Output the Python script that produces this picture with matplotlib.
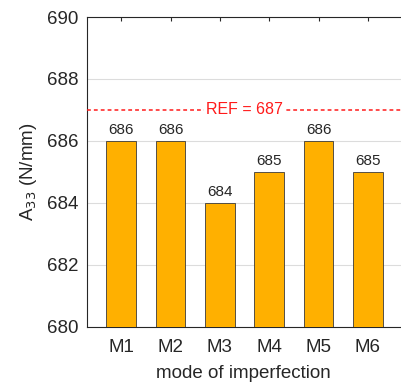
import matplotlib
matplotlib.use("Agg")
import matplotlib.pyplot as plt
import numpy as np

categories = ["M1", "M2", "M3", "M4", "M5", "M6"]
values = [686, 686, 684, 685, 686, 685]
ref_value = 687
yticks = [680, 682, 684, 686, 688, 690]

plt.rcParams['font.family'] = ['Liberation Sans', 'DejaVu Sans']

fig = plt.figure(figsize=(4.01, 3.89), dpi=100)
W, H = 401, 389
left, right, top, bottom = 86.7, 401, 17, 326.7
ax = fig.add_axes([left / W, 1 - bottom / H, (right - left) / W, (bottom - top) / H])

x = np.arange(1, len(categories) + 1)
ax.bar(x, values, width=0.6, color='#FFB000', edgecolor='#3a3a3a', linewidth=0.6, zorder=3)
ax.set_ylim(680, 690)
ax.set_xlim(0.3, 6.67)
ax.set_yticks(yticks)
ax.set_xticks(x)
ax.set_xticklabels(categories)
ax.grid(axis='y', color='#dcdcdc', linewidth=0.8, zorder=0)
ax.set_axisbelow(True)

for xi, v in zip(x, values):
    ax.text(xi, v + 0.12, str(v), ha='center', va='bottom', fontsize=11, color='#262626', zorder=5)

ax.axhline(ref_value, color='#ff1a1a', linestyle=(0, (2.5, 2)), linewidth=1.1, zorder=4)
ax.text(3.5, ref_value, f"REF = {ref_value}", ha='center', va='center', fontsize=11.5,
        color='#ff1a1a', zorder=5,
        bbox=dict(facecolor='white', edgecolor='none', pad=1.5))

for s in ['left', 'top', 'bottom']:
    ax.spines[s].set_color('#262626')
    ax.spines[s].set_linewidth(0.8)
ax.spines['right'].set_visible(False)
ax.tick_params(axis='both', direction='in', colors='#262626', labelsize=13.5, length=3,
               top=True, left=True, right=False)
ax.tick_params(axis='y', length=0, pad=6)
ax.tick_params(axis='x', pad=9)

ax.set_xlabel("mode of imperfection", fontsize=13.5, color='#262626', labelpad=6)
ax.set_ylabel(r"A$_{33}$ (N/mm)", fontsize=13.5, color='#262626', labelpad=6)

fig.savefig("out.png", dpi=100)
